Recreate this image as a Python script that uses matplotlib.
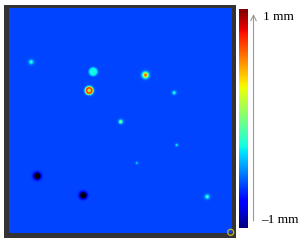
import numpy as np
import matplotlib
matplotlib.use("Agg")
import matplotlib.pyplot as plt
from matplotlib.patches import Rectangle, Circle

# карта высот, мм (фон и точки)
vmin, vmax = -1.0, 1.0
background = -0.61

# точки: центр (пиксели), радиус, пик (мм), порядок формы, радиус кольца
spot_x = [30.7, 92.7, 145.0, 88.7, 173.7, 120.3, 176.3, 136.3, 36.7, 82.7, 206.7]
spot_y = [62.0, 71.7, 75.0, 90.5, 92.7, 121.7, 145.0, 163.0, 176.0, 195.3, 196.7]
spot_r = [2.2, 4.6, 2.8, 1.6, 1.8, 1.9, 1.3, 1.1, 3.0, 3.0, 2.1]
spot_peak = [-0.15, -0.25, 0.75, 0.8, -0.15, 0.1, -0.2, -0.25, -1.6, -1.6, -0.1]
spot_order = [2, 8, 2, 2, 2, 2, 2, 2, 2, 2, 2]
spot_ring = [0, 0, 0, 2.6, 0, 0, 0, 0, 0, 0, 0]

# область изображения (пиксели)
x0, x1, y0, y1 = 8.5, 231.5, 8.0, 233.0

xs = np.arange(x0, x1, 0.5) + 0.25
ys = np.arange(y0, y1, 0.5) + 0.25
X, Y = np.meshgrid(xs, ys)
Z = np.full(X.shape, background)
for x, y, r, p, n, ring in zip(spot_x, spot_y, spot_r, spot_peak, spot_order, spot_ring):
    d = np.hypot(X - x, Y - y)
    g = np.exp(-(np.abs(d - ring) / r) ** n)
    if ring:
        g = np.maximum(g, 0.6 * np.exp(-(d / 1.8) ** 2))
    Z = Z + (p - background) * g

cmap = plt.get_cmap("jet").copy()
cmap.set_under("black")

fig = plt.figure(figsize=(3.0, 2.42), dpi=100)
ax = fig.add_axes([0, 0, 1, 1])
ax.set_xlim(0, 300)
ax.set_ylim(242, 0)
ax.axis("off")

ax.add_patch(Rectangle((4, 5), 232, 232.5, facecolor="#333333", edgecolor="none"))
ax.imshow(Z, cmap=cmap, vmin=vmin, vmax=vmax, extent=(x0, x1, y1, y0),
          interpolation="bilinear", zorder=2)
ax.add_patch(Circle((230.7, 232.3), 3.0, facecolor="none", edgecolor="#b8ae2c",
                    lw=1.0, zorder=3))

# цветовая шкала
grad = np.linspace(vmax, vmin, 256).reshape(-1, 1)
ax.imshow(grad, cmap="jet", vmin=vmin, vmax=vmax, extent=(239, 247.5, 228.5, 10),
          aspect="auto", zorder=2)
ax.annotate("", xy=(253.5, 14), xytext=(253.5, 221),
            arrowprops=dict(arrowstyle="->", color="#999999", lw=0.8,
                            shrinkA=0, shrinkB=0))
ax.text(263, 17, "1 mm", fontsize=9.5, family="Liberation Serif", va="center", ha="left")
ax.text(261, 220, "\u20131 mm", fontsize=9.5, family="Liberation Serif", va="center", ha="left")

fig.savefig("out.png", dpi=100)
